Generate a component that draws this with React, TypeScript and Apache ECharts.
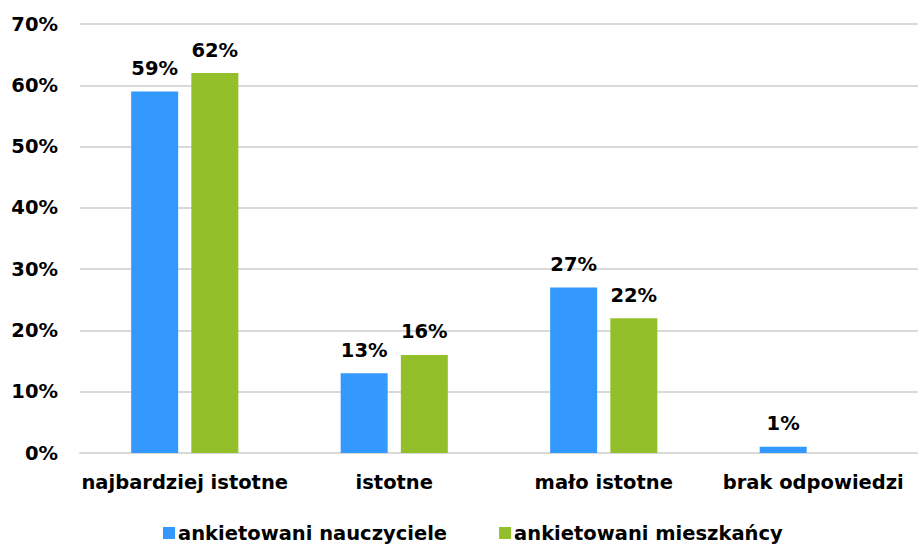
import React, { useEffect, useRef } from "react";
import * as echarts from "echarts";

const categories = ["najbardziej istotne", "istotne", "mało istotne", "brak odpowiedzi"];
const seriesNames = ["ankietowani nauczyciele", "ankietowani mieszkańcy"];
const teachers = [59, 13, 27, 1];
const residents = [62, 16, 22, 0];
const colors = ["#3399FF", "#93C02A"];

const FONT = "'DejaVu Sans', sans-serif";
const FS = 19.5;

export default function App() {
  const ref = useRef<HTMLDivElement>(null);
  useEffect(() => {
    if (!ref.current) return;
    const chart = echarts.init(ref.current, undefined, { renderer: "svg" });
    const label = {
      show: true,
      position: "top",
      distance: 13,
      fontFamily: FONT,
      fontWeight: "bold",
      fontSize: FS,
      color: "#000",
      formatter: (p: any) => (p.value ? p.value + "%" : ""),
    };
    chart.setOption({
      animation: false,
      grid: { left: 80, right: 0, top: 24, bottom: 92, containLabel: false },
      legend: {
        data: seriesNames,
        left: 158,
        top: 518,
        itemWidth: 12,
        itemHeight: 12,
        itemGap: 52,
        icon: "rect",
        textStyle: { fontFamily: FONT, fontWeight: "bold", fontSize: FS, color: "#000", padding: [0, 0, 0, -2] },
      },
      xAxis: {
        type: "category",
        data: categories,
        axisLine: { show: true, lineStyle: { color: "#d9d9d9", width: 2 } },
        axisTick: { show: false },
        axisLabel: { fontFamily: FONT, fontWeight: "bold", fontSize: FS, color: "#000", margin: 19, interval: 0 },
      },
      yAxis: {
        type: "value",
        min: 0,
        max: 70,
        interval: 10,
        axisLine: { show: false },
        axisTick: { show: false },
        splitLine: { lineStyle: { color: "#d9d9d9", width: 2 } },
        axisLabel: { formatter: "{value}%", fontFamily: FONT, fontWeight: "bold", fontSize: FS, color: "#000", margin: 22 },
      },
      series: [
        {
          name: seriesNames[0],
          type: "bar",
          data: teachers,
          itemStyle: { color: colors[0] },
          barWidth: 47,
          barGap: "28%",
          label,
        },
        {
          name: seriesNames[1],
          type: "bar",
          data: residents,
          itemStyle: { color: colors[1] },
          barWidth: 47,
          label,
        },
      ],
    });
    return () => chart.dispose();
  }, []);
  return <div ref={ref} style={{ width: 918, height: 545, position: "absolute", left: 0, top: 0 }} />;
}
